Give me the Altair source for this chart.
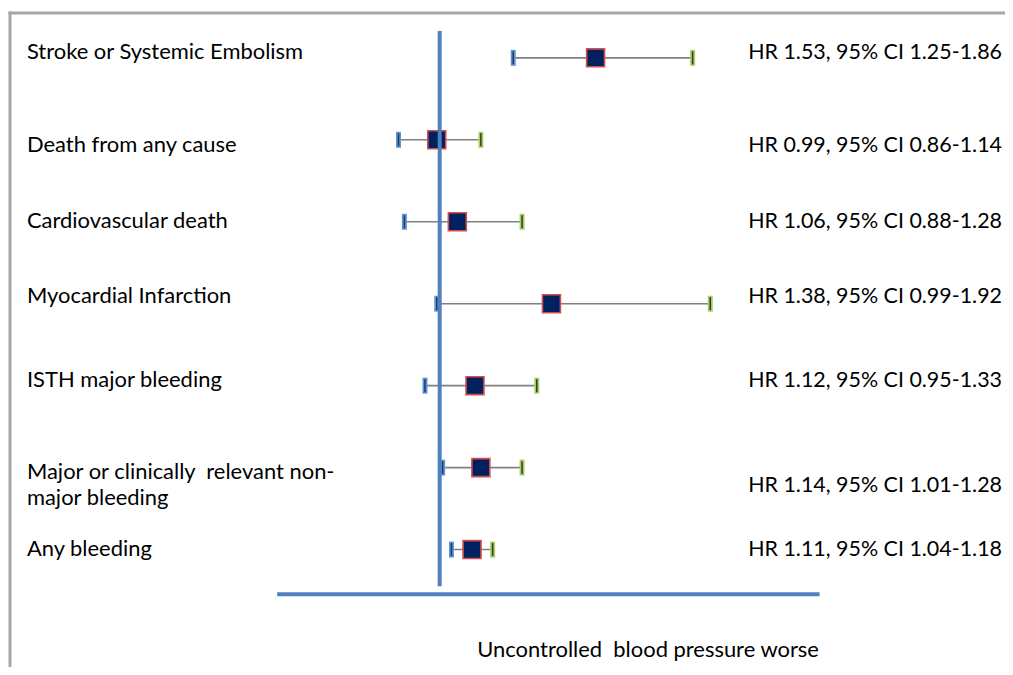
import altair as alt
import pandas as pd

# ---- data ----
outcomes = [
    "Stroke or Systemic Embolism",
    "Death from any cause",
    "Cardiovascular death",
    "Myocardial Infarction",
    "ISTH major bleeding",
    "Major or clinically\u00a0 relevant non-\nmajor bleeding",
    "Any bleeding",
]
hr = [1.53, 0.99, 1.06, 1.38, 1.12, 1.14, 1.11]
ci_low = [1.25, 0.86, 0.88, 0.99, 0.95, 1.01, 1.04]
ci_high = [1.86, 1.14, 1.28, 1.92, 1.33, 1.28, 1.18]
hr_text = [
    "HR 1.53, 95% CI 1.25-1.86",
    "HR 0.99, 95% CI 0.86-1.14",
    "HR 1.06, 95% CI 0.88-1.28",
    "HR 1.38, 95% CI 0.99-1.92",
    "HR 1.12, 95% CI 0.95-1.33",
    "HR 1.14, 95% CI 1.01-1.28",
    "HR 1.11, 95% CI 1.04-1.18",
]
footer = "Uncontrolled\u00a0 blood pressure worse"

# ---- layout (pixels) ----
W, H = 544, 565
ROW_PX = 82.2
left_dy = [1, 12, 6, -1, 1, 11, 6]      # baseline offsets of left labels
right_dy = [1, 12, 6, -1, 1, 24, 6]     # baseline offsets of right labels
FONT = "Lato"
FS_LEFT = 22
FS_RIGHT = 21.5

rows = list(range(len(outcomes)))
df = pd.DataFrame({
    "row": rows,
    "outcome": outcomes,
    "hr": hr,
    "lo": ci_low,
    "hi": ci_high,
    "txt": hr_text,
    "ly": [r + d / ROW_PX for r, d in zip(rows, left_dy)],
    "ry": [r + d / ROW_PX for r, d in zip(rows, right_dy)],
})
one = pd.DataFrame({"k": [0]})

xs = alt.Scale(domain=[0.4475, 2.2915], nice=False, zero=False)
ys = alt.Scale(domain=[6.545, -0.3285], nice=False, zero=False)

base = alt.Chart(df)
Y = alt.Y("row:Q", scale=ys, axis=None)

ci_lines = base.mark_rule(color="#808080", strokeWidth=1.6).encode(
    x=alt.X("lo:Q", scale=xs, axis=None), x2="hi:Q", y=Y)

lo_cap = base.mark_tick(orient="vertical", size=16, thickness=5, color="#5f93d3", opacity=1).encode(
    x=alt.X("lo:Q", scale=xs, axis=None), y=Y)
lo_cap_in = base.mark_tick(orient="vertical", size=13, thickness=1.5, color="#1f3864", opacity=1).encode(
    x=alt.X("lo:Q", scale=xs, axis=None), y=Y)
hi_cap = base.mark_tick(orient="vertical", size=16, thickness=5, color="#a9cc6a", opacity=1).encode(
    x=alt.X("hi:Q", scale=xs, axis=None), y=Y)
hi_cap_in = base.mark_tick(orient="vertical", size=13, thickness=1.5, color="#2f3f1c", opacity=1).encode(
    x=alt.X("hi:Q", scale=xs, axis=None), y=Y)

squares = base.mark_square(size=324, fill="#002060", stroke="#d0504d", strokeWidth=1.6, opacity=1).encode(
    x=alt.X("hr:Q", scale=xs, axis=None), y=Y)

ref_line = alt.Chart(one).mark_rule(color="#4f81bd", strokeWidth=4).encode(
    x=alt.datum(1.0, scale=xs), y=alt.value(0), y2=alt.value(557))

axis_line = alt.Chart(one).mark_rule(color="#4f81bd", strokeWidth=4).encode(
    x=alt.value(0), x2=alt.value(W), y=alt.value(H))

left_labels = base.mark_text(align="left", baseline="alphabetic", font=FONT, fontSize=FS_LEFT,
                             color="#000000", lineHeight=27, lineBreak="\n").encode(
    x=alt.value(-251), y=alt.Y("ly:Q", scale=ys, axis=None), text="outcome:N")

right_labels = base.mark_text(align="right", baseline="alphabetic", font=FONT, fontSize=FS_RIGHT,
                              color="#000000").encode(
    x=alt.value(727), y=alt.Y("ry:Q", scale=ys, axis=None), text="txt:N")

footer_text = alt.Chart(one).mark_text(align="center", baseline="alphabetic", font=FONT, fontSize=FS_LEFT,
                                       color="#000000", text=footer).encode(
    x=alt.value(372), y=alt.value(628))

border_top = alt.Chart(one).mark_rule(color="#a6a6a6", strokeWidth=3).encode(
    x=alt.value(-269.5), x2=alt.value(740), y=alt.value(-18))
border_left = alt.Chart(one).mark_rule(color="#a6a6a6", strokeWidth=3).encode(
    x=alt.value(-268), y=alt.value(-19.5), y2=alt.value(660))

chart = alt.layer(
    border_top, border_left, ci_lines, lo_cap, lo_cap_in, hi_cap, hi_cap_in, squares,
    ref_line, axis_line, left_labels, right_labels, footer_text
).properties(
    width=W, height=H,
    autosize=alt.AutoSizeParams(type="none"),
    padding={"left": 270, "top": 22, "right": 186, "bottom": 72},
    background="#ffffff",
).configure_view(stroke=None)

chart.save("out.html", embed_options={"renderer": "svg", "actions": False})
